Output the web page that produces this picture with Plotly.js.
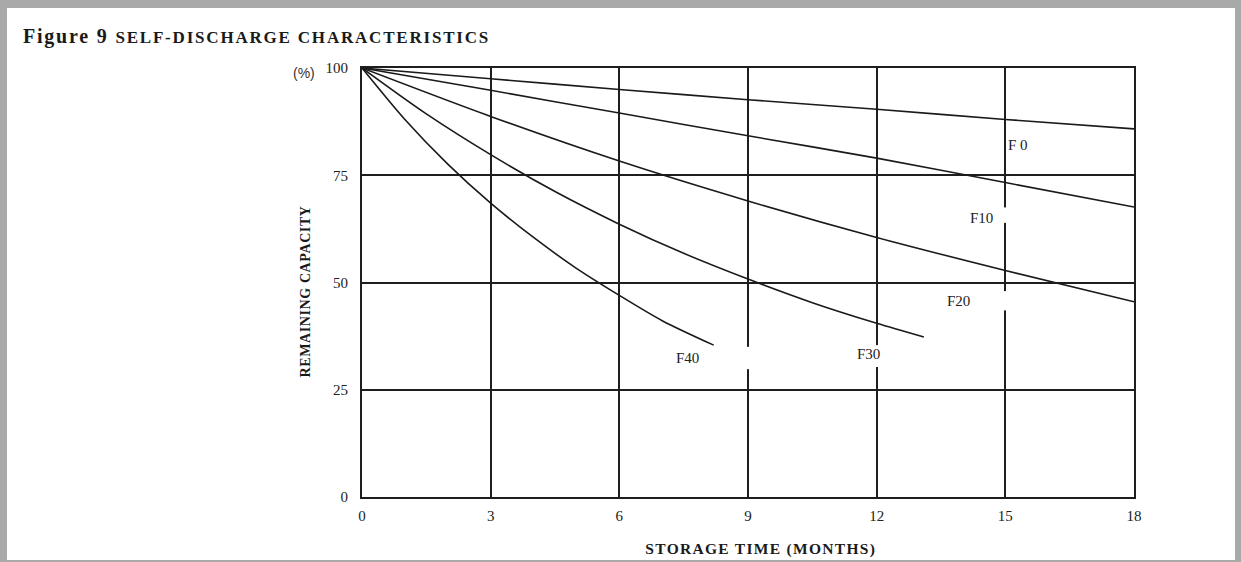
<!DOCTYPE html>
<html>
<head>
<meta charset="utf-8">
<script src="https://cdn.plot.ly/plotly-3.0.1.min.js"></script>
<style>
  html, body { margin: 0; padding: 0; background: #fff; }
  #wrap { position: relative; width: 1241px; height: 562px; overflow: hidden; }
  #chart { position: absolute; left: 0; top: 0; width: 1241px; height: 562px; }
  .bd { position: absolute; background: #a9a9a9; }
</style>
</head>
<body>
<div id="wrap">
  <div id="chart"></div>
  <div class="bd" style="left:0;top:0;width:1241px;height:8px;"></div>
  <div class="bd" style="left:0;top:0;width:7px;height:562px;"></div>
  <div class="bd" style="left:1235px;top:0;width:6px;height:562px;"></div>
  <div class="bd" style="left:0;top:560px;width:1241px;height:2px;"></div>
</div>
<script>
// ---- data ----
const months0  = [0, 3, 6, 9, 12, 15, 18];
const cap0C    = [100, 97.5, 95.0, 92.6, 90.4, 88.0, 85.8];
const months10 = [0, 3, 6, 9, 12, 15, 18];
const cap10C   = [100, 94.8, 89.5, 84.2, 79.0, 73.3, 67.6];
const months20 = [0, 3, 6, 9, 12, 15, 18];
const cap20C   = [100, 88.7, 78.3, 69.0, 60.5, 52.8, 45.5];
const months30 = [0, 1.5, 3, 4.5, 6, 7.5, 9, 10.5, 12, 13.1];
const cap30C   = [100, 89.3, 79.8, 71.2, 63.6, 56.8, 50.8, 45.3, 40.5, 37.3];
const months40 = [0, 1, 2, 3, 4, 5, 6, 7, 8.2];
const cap40C   = [100, 88.0, 77.6, 68.5, 60.5, 53.3, 47.0, 41.1, 35.4];

const tempLabels = ['F 0', 'F10', 'F20', 'F30', 'F40'];
const xTickVals = [0, 3, 6, 9, 12, 15, 18];
const xTickText = ['0', '3', '6', '9', '12', '15', '18'];
const yTickVals = [0, 25, 50, 75, 100];
const yTickText = ['0', '25', '50', '75', '100'];

const titleMain = 'Figure 9';
const titleSub = 'SELF-DISCHARGE CHARACTERISTICS';
const xTitle = 'STORAGE TIME (MONTHS)';
const yTitle = 'REMAINING CAPACITY';
const yUnit = '(%)';

// ---- chart ----
const serif = '"Liberation Serif", "Times New Roman", serif';
const lineStyle = {color: '#1a1a1a', width: 1.6, shape: 'spline', smoothing: 0.8};
const series = [[months0, cap0C], [months10, cap10C], [months20, cap20C], [months30, cap30C], [months40, cap40C]];
const traces = series.map(s => ({
  x: s[0], y: s[1], type: 'scatter', mode: 'lines', line: lineStyle, hoverinfo: 'skip', showlegend: false
}));

const labelPos = [[15.3, 82], [14.45, 65], [13.9, 45.6], [11.82, 33.3], [7.6, 32.4]];
const annotations = tempLabels.map((t, i) => ({
  x: labelPos[i][0], y: labelPos[i][1], xref: 'x', yref: 'y', text: t, showarrow: false,
  font: {family: serif, size: 15, color: '#222'}, xanchor: 'center', yanchor: 'middle'
}));

function px2x(p) { return (p - 362) / 772; }
function py2y(p) { return (497 - p) / 429; }

annotations.push(
  {xref: 'paper', yref: 'paper', x: px2x(256), y: py2y(36), xanchor: 'center', yanchor: 'middle', showarrow: false,
   text: titleMain + ' <span style="font-size:17px">' + titleSub + '</span>',
   font: {family: serif, size: 20, color: '#1a1a1a', weight: 'bold'}},
  {xref: 'paper', yref: 'paper', x: px2x(761), y: py2y(549), xanchor: 'center', yanchor: 'middle', showarrow: false,
   text: xTitle, font: {family: serif, size: 15.5, color: '#1a1a1a', weight: 'bold'}},
  {xref: 'paper', yref: 'paper', x: px2x(305), y: py2y(292), xanchor: 'center', yanchor: 'middle', showarrow: false,
   textangle: -90, text: yTitle, font: {family: serif, size: 14, color: '#1a1a1a', weight: 'bold'}},
  {xref: 'paper', yref: 'paper', x: px2x(304), y: py2y(73), xanchor: 'center', yanchor: 'middle', showarrow: false,
   text: yUnit, font: {family: '"Liberation Sans", Arial, sans-serif', size: 14, color: '#333'}}
);

// white breaks in the vertical grid lines (as in the reference)
const gapSpec = [[9, 29.8, 35.0], [12, 30.3, 35.4], [15, 63.9, 67.5], [15, 43.5, 48.0]];
const shapes = gapSpec.map(g => ({
  type: 'rect', xref: 'x', yref: 'y', x0: g[0] - 0.07, x1: g[0] + 0.07, y0: g[1], y1: g[2],
  fillcolor: '#ffffff', line: {width: 0}, layer: 'above'
}));

const layout = {
  width: 1241, height: 562,
  margin: {l: 362, r: 107, t: 68, b: 65, pad: 0},
  paper_bgcolor: '#ffffff', plot_bgcolor: '#ffffff',
  showlegend: false,
  xaxis: {
    range: [0, 18], tickvals: xTickVals, ticktext: xTickText, ticks: '',
    showgrid: true, gridcolor: '#1e1e1e', gridwidth: 2,
    showline: true, linecolor: '#1e1e1e', linewidth: 2, mirror: true, zeroline: false,
    tickfont: {family: serif, size: 15, color: '#222'}, ticklabelstandoff: 4, fixedrange: true
  },
  yaxis: {
    range: [0, 100], tickvals: yTickVals, ticktext: yTickText, ticks: '',
    showgrid: true, gridcolor: '#1e1e1e', gridwidth: 2,
    showline: true, linecolor: '#1e1e1e', linewidth: 2, mirror: true, zeroline: false,
    tickfont: {family: serif, size: 15, color: '#222'}, ticklabelstandoff: 9, fixedrange: true
  },
  annotations: annotations,
  shapes: shapes
};

Plotly.newPlot('chart', traces, layout, {displayModeBar: false, staticPlot: true}).then(() => {
  const texts = document.querySelectorAll('#chart .annotation-text');
  const n = tempLabels.length;
  const spacing = [1.8, 1.3, 0.6];
  for (let k = 0; k < 3; k++) {
    const el = texts[n + k];
    if (el) el.setAttribute('letter-spacing', spacing[k] + 'px');
  }
});
</script>
</body>
</html>
